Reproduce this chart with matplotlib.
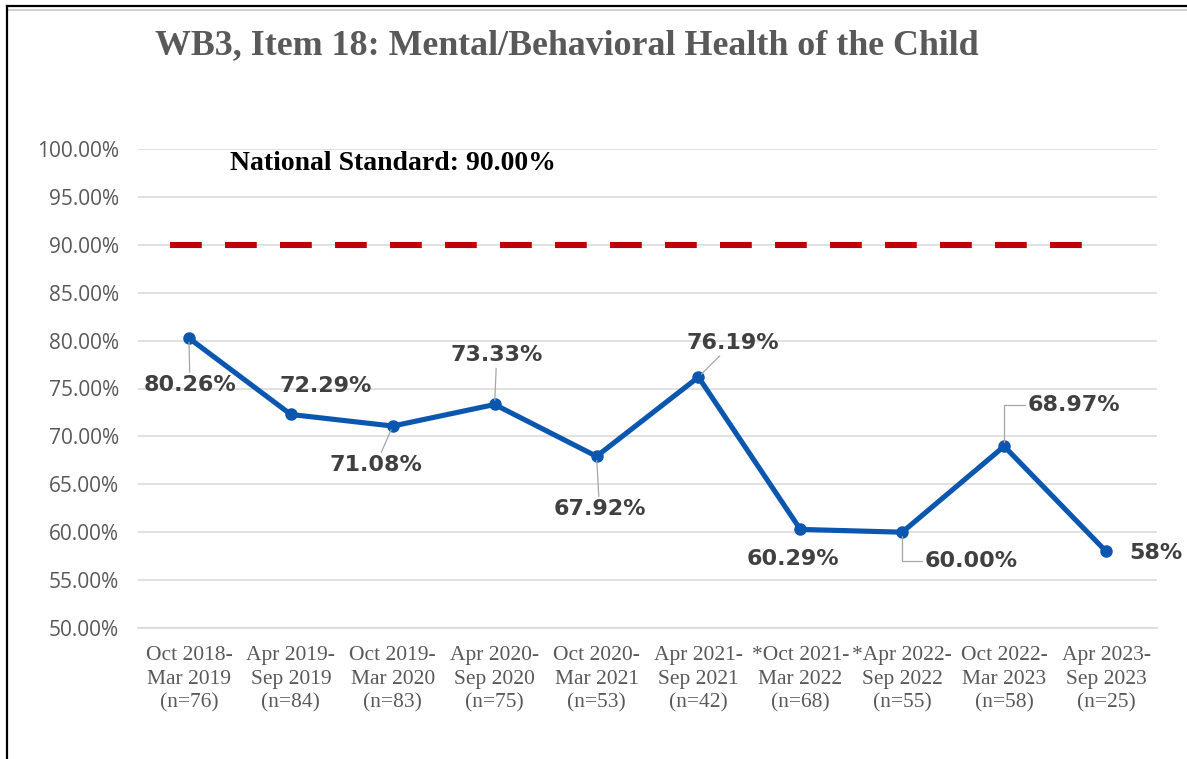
import matplotlib
matplotlib.use("Agg")
import matplotlib.pyplot as plt
from matplotlib.lines import Line2D
import matplotlib.transforms as mtransforms

# ---------------- data ----------------
categories = [
    "Oct 2018-\nMar 2019\n(n=76)",
    "Apr 2019-\nSep 2019\n(n=84)",
    "Oct 2019-\nMar 2020\n(n=83)",
    "Apr 2020-\nSep 2020\n(n=75)",
    "Oct 2020-\nMar 2021\n(n=53)",
    "Apr 2021-\nSep 2021\n(n=42)",
    "*Oct 2021-\nMar 2022\n(n=68)",
    "*Apr 2022-\nSep 2022\n(n=55)",
    "Oct 2022-\nMar 2023\n(n=58)",
    "Apr 2023-\nSep 2023\n(n=25)",
]
values = [80.26, 72.29, 71.08, 73.33, 67.92, 76.19, 60.29, 60.00, 68.97, 58.0]
value_labels = ["80.26%", "72.29%", "71.08%", "73.33%", "67.92%",
                "76.19%", "60.29%", "60.00%", "68.97%", "58%"]
standard = [90.0] * len(categories)
yticks = [50, 55, 60, 65, 70, 75, 80, 85, 90, 95, 100]
title = "WB3, Item 18: Mental/Behavioral Health of the Child"
standard_label = "National Standard: 90.00%"

# label placement (offset in pixels) and leader style
label_offsets = [(1, -47), (35, 28), (-17, -39), (2, 49), (3, -53),
                 (34, 34), (-7, -30), (69, -29), (70, 41), (50, -2)]
leader_style = ["line", None, "line", "line", "line",
                "line", None, "elbow", "elbow", None]

W, H = 1187, 759
fig = plt.figure(figsize=(W / 100, H / 100), dpi=100)
fig.patch.set_facecolor("white")

L, R, T, B = 138, 1157, 149, 628
ax = fig.add_axes([L / W, 1 - B / H, (R - L) / W, (B - T) / H])

x = list(range(len(categories)))

# gridlines
ax.set_ylim(50, 100)
ax.set_xlim(-0.5, len(categories) - 0.5)
ax.set_yticks(yticks)
ax.set_yticklabels([f"{v:.2f}%" for v in yticks])
ax.yaxis.grid(True, color="#D9D9D9", lw=1.1)
ax.set_axisbelow(True)
for s in ["top", "right", "left"]:
    ax.spines[s].set_visible(False)
ax.spines["bottom"].set_color("#D9D9D9")
ax.spines["bottom"].set_linewidth(1.1)
ax.tick_params(axis="both", length=0)
ax.tick_params(axis="y", pad=13.5, labelcolor="#595959")
ax.tick_params(axis="x", pad=13, labelcolor="#595959")
for lab in ax.get_yticklabels():
    lab.set_fontfamily("Open Sans")
    lab.set_fontsize(15)
ax.set_xticks(x)
ax.set_xticklabels(categories, fontfamily="Liberation Serif", fontsize=15.5,
                   linespacing=1.32)

# national standard dashed line
shift = mtransforms.offset_copy(ax.transData, fig=fig, x=-19, y=0, units="dots")
ax.plot(x, standard, color="#C00000", lw=4.4, dashes=(5.2, 3.8),
        solid_capstyle="butt", dash_capstyle="butt", transform=shift, zorder=3)

# main series
ax.plot(x, values, color="#0B57B0", lw=3.7, marker="o", markersize=8,
        markerfacecolor="#0B57B0", markeredgecolor="#0B57B0", zorder=4,
        solid_joinstyle="round")

# data labels
for xi, v, lab, off, st in zip(x, values, value_labels, label_offsets, leader_style):
    kw = dict(textcoords="offset pixels", xytext=off, ha="center", va="center",
              fontfamily="DejaVu Sans", fontweight="bold", fontsize=16,
              color="#404040", zorder=5)
    if st == "line":
        kw["arrowprops"] = dict(arrowstyle="-", color="#A6A6A6", lw=0.9,
                                shrinkA=0, shrinkB=3)
    elif st == "elbow":
        kw["arrowprops"] = dict(arrowstyle="-", color="#A6A6A6", lw=0.9,
                                shrinkA=0, shrinkB=3, relpos=(0, 0.5),
                                connectionstyle="angle,angleA=0,angleB=90,rad=0")
    ax.annotate(lab, xy=(xi, v), **kw)

# national standard text
ax.text((230 - L) / (R - L), (B - 163) / (B - T), standard_label,
        transform=ax.transAxes, ha="left", va="center",
        fontfamily="Liberation Serif", fontweight="bold", fontsize=20, color="black")

# title
fig.text(155 / W, 1 - 46 / H, title, ha="left", va="center",
         fontfamily="Liberation Serif", fontweight="bold", fontsize=25.8,
         color="#595959")

# frame lines (top and left)
fig.add_artist(Line2D([7 / W, 1], [1 - 10 / H, 1 - 10 / H], transform=fig.transFigure,
                      color="#D0D0D0", lw=1.5))
fig.add_artist(Line2D([7 / W, 1], [1 - 6 / H, 1 - 6 / H], transform=fig.transFigure,
                      color="black", lw=1.6))
fig.add_artist(Line2D([7 / W, 7 / W], [0, 1 - 6 / H], transform=fig.transFigure,
                      color="black", lw=1.6))

fig.savefig("out.png", dpi=100, facecolor="white")
